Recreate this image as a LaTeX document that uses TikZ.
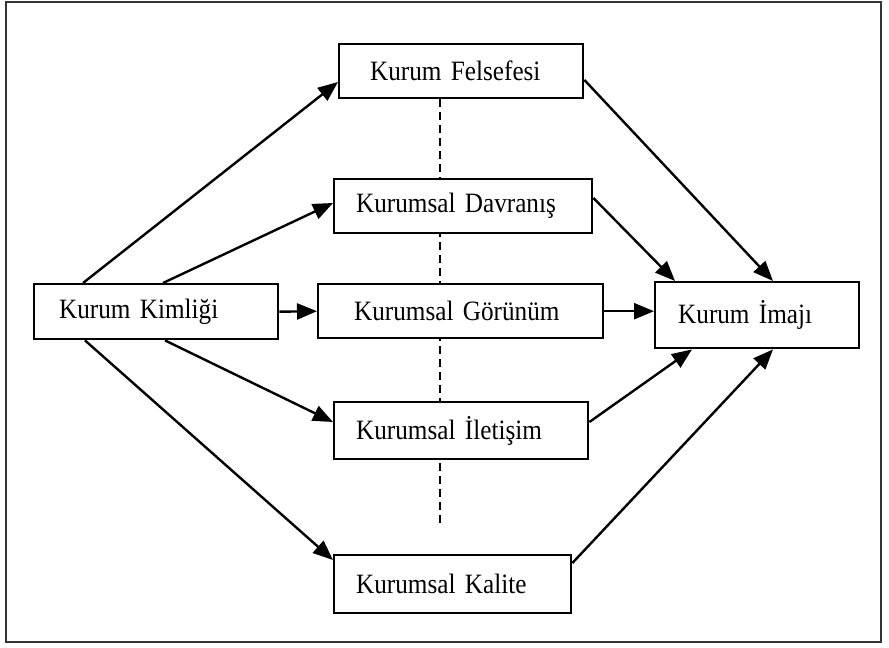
\documentclass[tikz,border=0pt]{standalone}
\usepackage{fontspec}
\setmainfont{Liberation Serif}[FakeStretch=0.9,WordSpace=0.7]
\usetikzlibrary{arrows.meta,calc}
\pgfdeclarelayer{bg}
\pgfsetlayers{bg,main}

\begin{document}
\begin{tikzpicture}[x=0.5pt,y=-0.5pt,
	kutu/.style={draw,line width=1.2pt,fill=white,anchor=north west,align=left,inner ysep=0pt,font=\fontsize{14}{16}\selectfont},
	ok/.style={line width=1.2pt,-{Triangle[length=10pt,width=8pt]}}]
		\useasboundingbox (0,0) rectangle (889,648);
		\draw[line width=1.1pt,black!80] (6,2) rectangle (881,642);
		\node[kutu,text width=97pt,inner xsep=12.5pt,minimum height=27.5pt] (kimlik) at (33,283) {Kurum Kimliği};
		\node[kutu,text width=91pt,inner xsep=15.5pt,minimum height=27pt] (felsefe) at (338,43) {Kurum Felsefesi};
		\node[kutu,text width=107pt,inner xsep=11pt,minimum height=27pt] (davranis) at (333,178) {Kurumsal Davranış};
		\node[kutu,text width=106.5pt,inner xsep=18pt,minimum height=27pt] (gorunum) at (317,283) {Kurumsal Görünüm};
		\node[kutu,text width=105pt,inner xsep=11pt,minimum height=28.5pt] (iletisim) at (333,401) {Kurumsal İletişim};
		\node[kutu,text width=96.5pt,inner xsep=11pt,minimum height=29pt] (kalite) at (333,554) {Kurumsal Kalite};
		\node[kutu,text width=79pt,inner xsep=11.5pt,minimum height=33pt] (imaj) at (654,281) {Kurum İmajı};
		\coordinate (kesik) at (440,527);
		\begin{pgfonlayer}{bg}
		\draw[line width=1pt,dash pattern=on 4pt off 2.5pt] (felsefe.south -| kesik) -- (kesik);
		\end{pgfonlayer}
		% sol taraf
		\draw[ok] ([xshift=25pt]kimlik.north west) -- ([yshift=-19.5pt]felsefe.north west);
		\draw[ok] ([xshift=65pt]kimlik.north west) -- ([yshift=-12.5pt]davranis.north west);
		\draw[ok] (kimlik.east) -- (gorunum.west);
		\draw[ok] ([xshift=66pt]kimlik.south west) -- ([yshift=-10.5pt]iletisim.north west);
		\draw[ok] ([xshift=26pt]kimlik.south west) -- ([yshift=-3pt]kalite.north west);
		% sag taraf
		\draw[ok] ([yshift=-18.5pt]felsefe.north east) -- ([xshift=59.5pt]imaj.north west);
		\draw[ok] ([yshift=-10pt]davranis.north east) -- ([xshift=10.5pt]imaj.north west);
		\draw[ok] (gorunum.east) -- (gorunum.east -| imaj.west);
		\draw[ok] ([yshift=-10.5pt]iletisim.north east) -- ([xshift=19pt]imaj.south west);
		\draw[ok] ([yshift=-4.5pt]kalite.north east) -- ([xshift=59.5pt]imaj.south west);
	\end{tikzpicture}
\end{document}
